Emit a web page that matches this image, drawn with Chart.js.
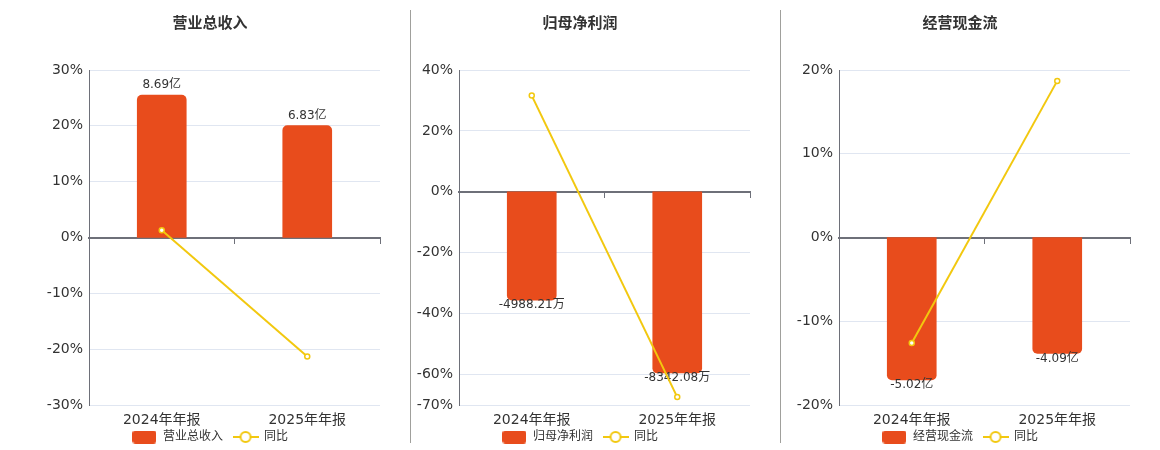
<!DOCTYPE html>
<html>
<head>
<meta charset="utf-8">
<script src="https://cdn.jsdelivr.net/npm/chart.js@4.4.1/dist/chart.umd.min.js"></script>
<style>
  html, body { margin: 0; padding: 0; background: #fff; }
  #wrap { position: relative; width: 1160px; height: 450px; overflow: hidden; }
  .panel { position: absolute; top: 0; width: 400px; height: 450px; }
  .sep { position: absolute; top: 10px; width: 1px; height: 433px; background: #a0a09c; }
</style>
</head>
<body>
<div id="wrap">
  <div class="panel" style="left:10px"><canvas id="revenueChart"></canvas></div>
  <div class="panel" style="left:380px"><canvas id="profitChart"></canvas></div>
  <div class="panel" style="left:760px"><canvas id="cashChart"></canvas></div>
  <div class="sep" style="left:410px"></div>
  <div class="sep" style="left:780px"></div>
</div>
<script>
// Periods shared by all three panels
const periods = ['2024年年报', '2025年年报'];

// 营业总收入 (亿) and yoy %
const revenueValues = [8.69, 6.83];
const revenueYoy = [1.3, -21.3];
const revenueTicks = [30, 20, 10, 0, -10, -20, -30];

// 归母净利润 (万) and yoy %
const profitValues = [-4988.21, -8342.08];
const profitYoy = [31.6, -67.4];
const profitTicks = [40, 20, 0, -20, -40, -60, -70];

// 经营现金流 (亿) and yoy %
const cashValues = [-5.02, -4.09];
const cashYoy = [-12.6, 18.7];
const cashTicks = [20, 10, 0, -10, -20];

const barColor = '#E84C1C';
const lineColor = '#F2C80F';
const fontFamily = '"DejaVu Sans", "Noto Sans CJK SC", sans-serif';

// legend glyphs
function barGlyph() {
    const c = document.createElement('canvas');
    c.width = 24; c.height = 13;
    const g = c.getContext('2d');
    g.fillStyle = barColor;
    g.beginPath();
    g.roundRect(0, 0, 24, 13, 3);
    g.fill();
    return c;
}
function lineGlyph() {
    const c = document.createElement('canvas');
    c.width = 26; c.height = 14;
    const g = c.getContext('2d');
    g.strokeStyle = lineColor;
    g.lineWidth = 2;
    g.beginPath();
    g.moveTo(0, 7); g.lineTo(26, 7);
    g.stroke();
    g.fillStyle = '#fff';
    g.beginPath();
    g.arc(13, 7, 5, 0, Math.PI * 2);
    g.fill();
    g.stroke();
    return c;
}

// value labels on bars, drawn before the line so the line passes over them
const barLabels = {
    id: 'barLabels',
    afterDatasetDraw(chart, args, opts) {
        if (args.meta.type !== 'bar') return;
        const ctx = chart.ctx;
        ctx.save();
        ctx.font = '12px ' + fontFamily;
        ctx.fillStyle = '#333';
        ctx.textAlign = 'center';
        args.meta.data.forEach((bar, i) => {
            const v = chart.data.datasets[args.index].data[i];
            const text = v.toFixed(2) + opts.unit;
            if (v >= 0) {
                ctx.textBaseline = 'bottom';
                ctx.fillText(text, bar.x, bar.y - 4);
            } else {
                ctx.textBaseline = 'middle';
                ctx.fillText(text, bar.x, bar.y + 5);
            }
        });
        ctx.restore();
    }
};

// pull the legend box up so it sits right under the category labels
const legendNudge = {
    id: 'legendNudge',
    afterLayout(chart, args, opts) {
        const lg = chart.legend;
        lg.top = opts.top;
        lg.height = lg.bottom - lg.top;
    }
};

function makePanel(canvasId, title, seriesName, values, unit, yoy, ticks) {
    const lo = Math.min(...ticks);
    const hi = Math.max(...ticks);
    // bar axis: zero aligned with the percent axis, biggest bar at 85% of its side
    const biggest = Math.max(...values.map(Math.abs));
    const side = values.some(v => v < 0) ? Math.abs(lo) : hi;
    const f = biggest / (0.85 * side);

    return new Chart(document.getElementById(canvasId), {
        data: {
            labels: periods,
            datasets: [
                {
                    type: 'line',
                    label: '同比',
                    data: yoy,
                    yAxisID: 'y',
                    order: 0,
                    borderColor: lineColor,
                    borderWidth: 2,
                    pointRadius: 2.5,
                    pointBorderWidth: 1.5,
                    pointBackgroundColor: '#fff',
                    pointBorderColor: lineColor,
                    tension: 0
                },
                {
                    type: 'bar',
                    label: seriesName,
                    data: values,
                    yAxisID: 'y1',
                    order: 1,
                    backgroundColor: barColor,
                    borderRadius: 5,
                    borderSkipped: 'start',
                    barThickness: 49
                }
            ]
        },
        options: {
            responsive: true,
            maintainAspectRatio: false,
            animation: false,
            layout: { padding: 0 },
            plugins: {
                title: {
                    display: true,
                    text: title,
                    color: '#333',
                    font: { family: fontFamily, size: 15, weight: 'bold' },
                    padding: { top: 15, bottom: 37 }
                },
                legend: {
                    position: 'bottom',
                    maxHeight: 20,
                    labels: {
                        usePointStyle: true,
                        pointStyleWidth: 25,
                        padding: 10,
                        color: '#333',
                        font: { family: fontFamily, size: 12 },
                        generateLabels: () => [
                            { text: seriesName, pointStyle: barGlyph(), fontColor: '#333', lineWidth: 0, strokeStyle: 'transparent', datasetIndex: 1 },
                            { text: '同比', pointStyle: lineGlyph(), fontColor: '#333', lineWidth: 0, strokeStyle: 'transparent', datasetIndex: 0 }
                        ]
                    }
                },
                legendNudge: { top: 421 },
                tooltip: { enabled: false },
                barLabels: { unit: unit }
            },
            scales: {
                x: {
                    type: 'category',
                    offset: true,
                    grid: { display: false, drawTicks: false },
                    border: { display: false },
                    ticks: { color: '#333', padding: 7, font: { family: fontFamily, size: 14 } },
                    afterFit: s => { s.height = 25; }
                },
                x2: {
                    type: 'category',
                    position: { y: 0 },
                    offset: true,
                    grid: { drawOnChartArea: false, offset: true, color: '#6E7079', tickLength: 5 },
                    border: { color: '#6E7079', width: 2 },
                    ticks: { display: false }
                },
                y: {
                    min: lo,
                    max: hi,
                    afterBuildTicks: s => { s.ticks = ticks.map(v => ({ value: v })); },
                    grid: { color: '#E0E6F1', drawTicks: false },
                    border: { color: '#6E7079', width: 1 },
                    ticks: {
                        color: '#333',
                        padding: 6,
                        font: { family: fontFamily, size: 14 },
                        callback: v => v + '%'
                    },
                    afterFit: s => { s.width = 79; }
                },
                y1: {
                    position: 'right',
                    min: lo * f,
                    max: hi * f,
                    grid: { display: false },
                    border: { display: false },
                    ticks: { display: false },
                    afterFit: s => { s.width = 30; }
                }
            }
        },
        plugins: [barLabels, legendNudge]
    });
}

makePanel('revenueChart', '营业总收入', '营业总收入', revenueValues, '亿', revenueYoy, revenueTicks);
makePanel('profitChart', '归母净利润', '归母净利润', profitValues, '万', profitYoy, profitTicks);
makePanel('cashChart', '经营现金流', '经营现金流', cashValues, '亿', cashYoy, cashTicks);
</script>
</body>
</html>
